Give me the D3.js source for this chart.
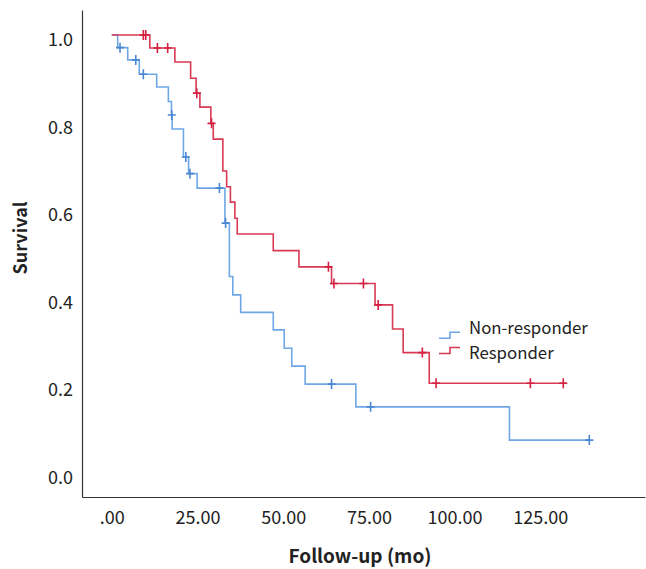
<!DOCTYPE html>
<html><head><meta charset="utf-8">
<script src="https://cdn.jsdelivr.net/npm/d3@7"></script>
<style>body{margin:0;background:#fff}svg{display:block}</style>
</head><body>
<svg id="c" width="646" height="569"></svg>
<script>
// Step data: [time, survival after drop]
const groups = ["Non-responder", "Responder"];
const nonResponderSteps = [
  [0, 1.0], [1.72, 0.971], [4.64, 0.943], [8.02, 0.910], [13.1, 0.881], [16.5, 0.848],
  [17.4, 0.817], [17.6, 0.785], [20.9, 0.721], [22.4, 0.683], [24.9, 0.650],
  [33.0, 0.570], [34.3, 0.448], [35.3, 0.406], [37.6, 0.366], [47.1, 0.326],
  [50.3, 0.284], [52.5, 0.243], [56.4, 0.202], [71.2, 0.150], [116.0, 0.074]
];
const nonResponderEnd = 139.5;
const nonResponderCensored = [
  [2.4, 0.971], [7.0, 0.943], [9.2, 0.910], [17.5, 0.817], [21.6, 0.721], [22.8, 0.683],
  [31.4, 0.650], [33.2, 0.570], [64.1, 0.202], [75.5, 0.150], [139.3, 0.074]
];
const responderSteps = [
  [0, 1.0], [11.1, 0.970], [18.4, 0.938], [23.0, 0.901], [24.6, 0.867], [25.7, 0.835],
  [28.9, 0.798], [29.6, 0.762], [32.4, 0.689], [33.5, 0.653], [34.6, 0.618],
  [35.9, 0.581], [36.6, 0.545], [47.1, 0.507], [54.6, 0.470], [64.1, 0.432],
  [76.8, 0.383], [81.9, 0.328], [85.0, 0.274], [92.6, 0.204]
];
const responderEnd = 132.7;
const responderCensored = [
  [9.2, 1.0], [9.9, 1.0], [13.3, 0.970], [16.3, 0.970], [24.8, 0.867], [29.1, 0.798],
  [63.2, 0.470], [64.8, 0.432], [73.4, 0.432], [77.7, 0.383], [90.6, 0.274],
  [94.6, 0.204], [122.1, 0.204], [131.7, 0.204]
];
const xTicks = [0, 25, 50, 75, 100, 125];
const yTicks = [0, 0.2, 0.4, 0.6, 0.8, 1.0];

const colors = {"Non-responder": "#6fa7e6", "Responder": "#d83a55"};
const markColors = {"Non-responder": "#4a86d2", "Responder": "#d41f40"};
const FONT = "'Noto Sans CJK KR','Noto Sans',sans-serif";

const svg = d3.select("#c");
const x = d3.scaleLinear().domain([-8.69, 155.54]).range([82, 645]);
const y = d3.scaleLinear().domain([-0.056, 1.057]).range([497, 10]);

// axes
const xAxis = d3.axisBottom(x).tickValues(xTicks).tickSize(0).tickPadding(14)
  .tickFormat(d => d === 0 ? ".00" : d3.format(".2f")(d));
const gx = svg.append("g").attr("transform", "translate(0,497)").call(xAxis);
const yAxis = d3.axisLeft(y).tickValues(yTicks).tickSize(0).tickPadding(9)
  .tickFormat(d3.format(".1f"));
const gy = svg.append("g").attr("transform", "translate(82,0)").call(yAxis);
[gx, gy].forEach(g => {
  g.select(".domain").attr("stroke", "#333").attr("stroke-width", 1.2);
  g.selectAll("text").attr("font-family", FONT).attr("font-size", 18).attr("fill", "#222");
});
gy.selectAll("text").attr("dy", "0.6em");

// axis titles
svg.append("text").attr("x", 360).attr("y", 563).attr("text-anchor", "middle")
  .attr("font-family", FONT).attr("font-size", 19).attr("font-weight", 600).attr("fill", "#222")
  .text("Follow-up (mo)");
svg.append("text").attr("transform", "translate(27,238) rotate(-90)").attr("text-anchor", "middle")
  .attr("font-family", FONT).attr("font-size", 18).attr("font-weight", 600).attr("fill", "#222")
  .text("Survival");

function stepPath(steps, end) {
  let p = "";
  steps.forEach((s, i) => {
    if (i === 0) p += `M${x(s[0])},${y(s[1])}`;
    else p += `H${x(s[0])}V${y(s[1])}`;
  });
  p += `H${x(end)}`;
  return p;
}
const series = [
  {name: "Non-responder", steps: nonResponderSteps, end: nonResponderEnd, cens: nonResponderCensored},
  {name: "Responder", steps: responderSteps, end: responderEnd, cens: responderCensored}
];
series.forEach(s => {
  svg.append("path").attr("d", stepPath(s.steps, s.end)).attr("fill", "none")
    .attr("stroke", colors[s.name]).attr("stroke-width", 1.6);
});
series.forEach(s => {
  const g = svg.append("g");
  g.selectAll("path").data(s.cens).join("path")
    .attr("d", d => `M${x(d[0])},${y(d[1]) - 5}V${y(d[1]) + 5}M${x(d[0]) - 4},${y(d[1])}H${x(d[0]) + 4}`)
    .attr("stroke", markColors[s.name]).attr("stroke-width", 1.6).attr("fill", "none");
});

// legend
const leg = svg.append("g").attr("transform", "translate(439,0)");
groups.forEach((gname, i) => {
  const yb = 338.3 + i * 15.2;
  leg.append("path").attr("d", `M0,${yb}H11V${yb - 6}H21`).attr("fill", "none")
    .attr("stroke", colors[gname]).attr("stroke-width", 1.6);
  leg.append("text").attr("x", 30).attr("y", 328 + i * 25.5).attr("dy", "0.35em")
    .attr("font-family", FONT).attr("font-size", 16.8).attr("fill", "#222").text(gname);
});
</script>
</body></html>
